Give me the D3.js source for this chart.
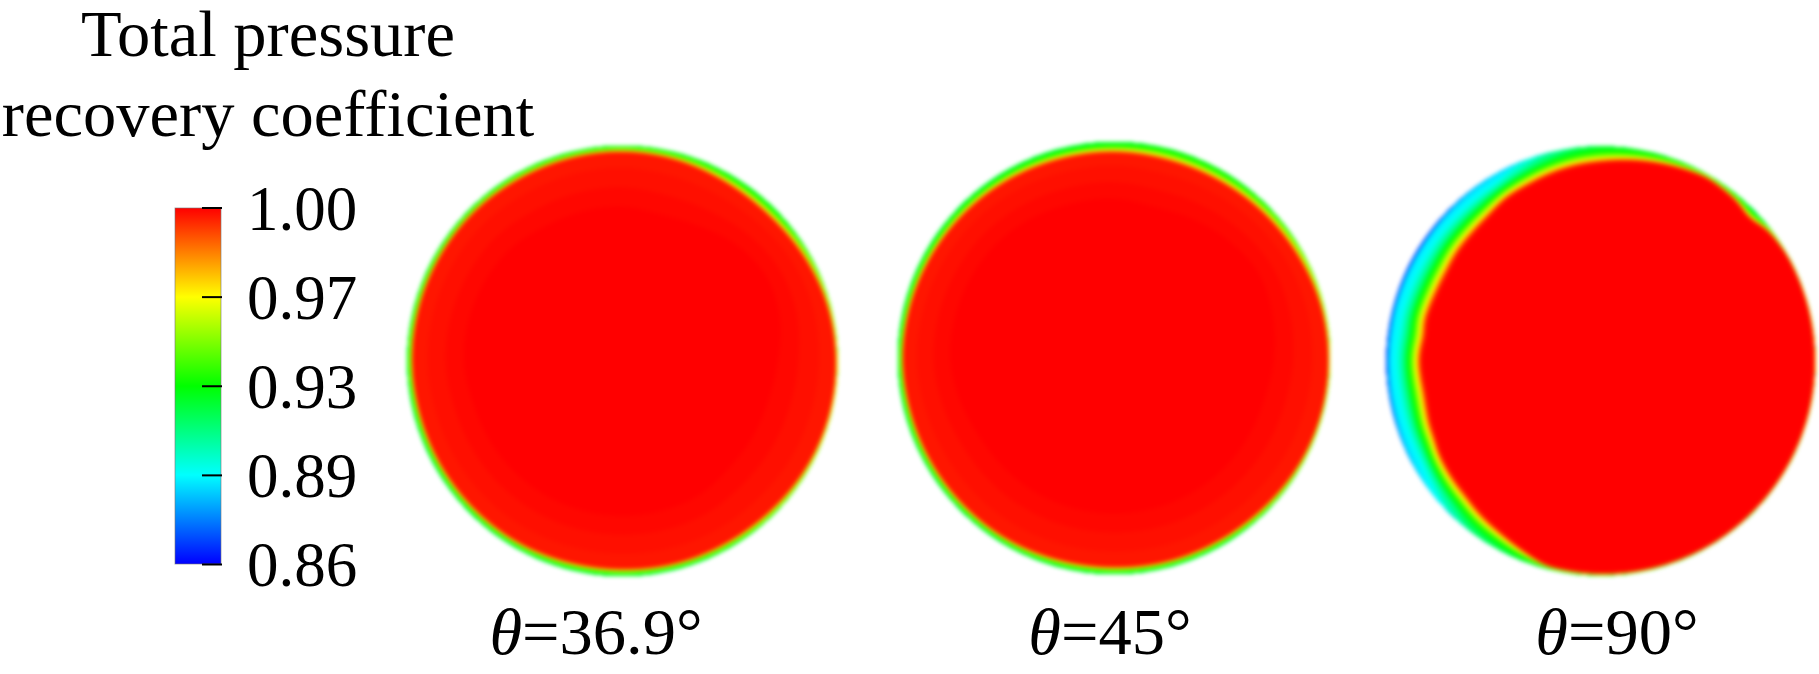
<!DOCTYPE html>
<html>
<head>
<meta charset="utf-8">
<script src="https://cdn.jsdelivr.net/npm/d3@7"></script>
<style>
html,body{margin:0;padding:0;background:#fff;overflow:hidden}
svg{display:block}
text{font-family:"Liberation Serif","Times New Roman",serif;fill:#000}
</style>
</head>
<body>
<svg id="chart" width="1819" height="674"></svg>
<script>
const titleLines = ["Total pressure", "recovery coefficient"];
const tickLabels = ["1.00", "0.97", "0.93", "0.89", "0.86"];
const colorValues = [0.86, 0.895, 0.93, 0.965, 1.0];
const colorStops = ["#0000ff", "#00ffff", "#00ff00", "#ffff00", "#ff0000"];

const diskLabels = [["θ", "=36.9°"], ["θ", "=45°"], ["θ", "=90°"]];

// bearing in degrees, clockwise from top
const rimAngles = [0,15,30,45,60,75,90,105,120,135,150,165,180,195,210,225,240,255,270,285,300,315,330,345];
// disk 1
const d1Edge = [.93,.93,.93,.93,.94,.95,.96,.96,.95,.94,.93,.925,.925,.925,.925,.925,.925,.925,.93,.93,.93,.93,.93,.93];
const d1Red  = [.97,.965,.955,.955,.97,.985,.99,.99,.985,.975,.97,.97,.965,.965,.97,.97,.97,.97,.975,.975,.975,.975,.97,.97];
const d1Core = [.72,.7,.72,.76,.78,.76,.72,.7,.7,.7,.72,.72,.72,.72,.72,.72,.72,.72,.74,.74,.74,.74,.72,.72];
// disk 2
const d2Edge = [.925,.93,.93,.935,.945,.95,.955,.95,.945,.935,.925,.925,.925,.925,.925,.925,.925,.925,.925,.925,.925,.925,.925,.925];
const d2Red  = [.95,.945,.95,.96,.97,.985,.99,.99,.985,.975,.97,.97,.965,.965,.97,.97,.97,.97,.975,.97,.965,.96,.955,.95];
const d2Core = [.74,.72,.74,.76,.78,.76,.74,.72,.72,.72,.72,.72,.72,.72,.72,.72,.72,.74,.76,.76,.76,.76,.75,.74];
// disk 3
const d3Angles = [0,15,30,40,46,52,60,75,90,120,150,180,195,203,210,218,225,233,240,245,250,255,260,265,270,274,278,283,288,293,300,307,315,322,330,338,345,353];
const d3Edge = [.925,.93,.94,.93,.925,.945,.955,.96,.965,.955,.945,.94,.93,.925,.92,.915,.905,.895,.89,.885,.88,.875,.875,.87,.868,.868,.868,.87,.868,.868,.866,.866,.875,.885,.89,.9,.91,.92];
const d3Red  = [.925,.955,.985,.975,.955,.985,.995,.995,.995,.995,.995,.99,.985,.95,.925,.905,.885,.875,.865,.85,.845,.835,.83,.835,.84,.835,.825,.835,.83,.825,.825,.835,.84,.85,.875,.885,.9,.915];

const disks = [
  {angles: rimAngles, edge: d1Edge, red: d1Red, core: d1Core, cx: 622.5, cy: 361, R: 215, smooth: 6},
  {angles: rimAngles, edge: d2Edge, red: d2Red, core: d2Core, cx: 1114, cy: 358, R: 216, smooth: 6},
  {angles: d3Angles, edge: d3Edge, red: d3Red, core: d3Red.map(r => r - 0.01), cx: 1601, cy: 361, R: 214.5, smooth: 2}
];
const labelX = [596, 1110, 1617];

const svg = d3.select("#chart");
const TICK_FONT = 63, TITLE_FONT = 66.5, LABEL_FONT = 66.5;

const color = d3.scaleLinear().domain(colorValues).range(colorStops).clamp(true);
const SHOULDER = 0.9972, PLATEAU = 0.893, RIM_DEPTH = 0.1;
const levels = d3.range(0.86, 1.0001, 0.001);

const defs = svg.append("defs");
defs.append("filter").attr("id", "soft")
  .attr("x", "-5%").attr("y", "-5%").attr("width", "110%").attr("height", "110%")
  .attr("color-interpolation-filters", "sRGB")
  .append("feGaussianBlur").attr("stdDeviation", 1.9);

const grad = defs.append("linearGradient").attr("id", "bar")
  .attr("x1", 0).attr("y1", 1).attr("x2", 0).attr("y2", 0);
const barPos = d3.scaleLinear().domain([0.86, 1]).range([0, 1]);
colorValues.forEach((v, i) => {
  grad.append("stop").attr("offset", barPos(v)).attr("stop-color", colorStops[i]);
});

function levelRadius(d, i, L) {
  const e = d.edge[i], red = d.red[i], core = d.core[i];
  if (L <= e) return 1;
  if (L > SHOULDER) return red - (red - core) * (L - SHOULDER) / (1 - SHOULDER);
  let s;
  if (e < PLATEAU) {
    s = L <= PLATEAU
      ? RIM_DEPTH * (L - e) / (PLATEAU - e)
      : RIM_DEPTH + (1 - RIM_DEPTH) * Math.sqrt((L - PLATEAU) / (SHOULDER - PLATEAU));
  } else {
    s = Math.sqrt((L - e) / (SHOULDER - e));
  }
  return 1 - (1 - red) * s;
}

const degrees = d3.range(0, 360, 1);

disks.forEach(d => {
  const r = d3.scaleLinear().domain([0, 1]).range([0, d.R]);
  const knots = [...d.angles, 360];
  const knotIdx = [...d.angles.map((_, i) => i), 0];
  const line = d3.lineRadial()
    .angle((_, i) => degrees[i] * Math.PI / 180)
    .radius(v => r(v))
    .curve(d3.curveLinearClosed);
  svg.append("g")
    .attr("transform", `translate(${d.cx},${d.cy})`)
    .attr("filter", "url(#soft)")
    .selectAll("path").data(levels).join("path")
    .attr("d", L => {
      const at = d3.scaleLinear().domain(knots).range(knotIdx.map(i => levelRadius(d, i, L)));
      const raw = degrees.map(a => at(a));
      const w = d.smooth;
      const smoothed = raw.map((_, a) => d3.mean(d3.range(-w, w + 1), k => raw[(a + k + 360) % 360]));
      return line(smoothed);
    })
    .attr("fill", L => color(L));
});

// Colour bar
const barX = 175, barW = 46, barTop = 208, barBottom = 564;
svg.append("rect")
  .attr("x", barX).attr("y", barTop).attr("width", barW).attr("height", barBottom - barTop)
  .attr("fill", "url(#bar)").attr("stroke", "#777").attr("stroke-opacity", 0.6).attr("stroke-width", 1);

const yTick = d3.scalePoint().domain(tickLabels).range([207.5, 564]);
const axisG = svg.append("g").attr("transform", "translate(222,0)")
  .call(d3.axisLeft(yTick).tickSize(20).tickPadding(0).tickFormat(""));
axisG.select(".domain").remove();
axisG.selectAll("line").attr("stroke", "#000").attr("stroke-width", 2);

svg.append("g").selectAll("text").data(tickLabels).join("text")
  .attr("x", 247).attr("y", d => yTick(d) + 22)
  .attr("font-size", TICK_FONT).text(d => d);

// Title
svg.append("g").selectAll("text").data(titleLines).join("text")
  .attr("x", 268).attr("y", (d, i) => 56 + i * 80)
  .attr("text-anchor", "middle").attr("font-size", TITLE_FONT).text(d => d);

// Disk labels
disks.forEach((d, i) => {
  const t = svg.append("text").attr("x", labelX[i]).attr("y", 654)
    .attr("text-anchor", "middle").attr("font-size", LABEL_FONT);
  t.append("tspan").attr("font-style", "italic").text(diskLabels[i][0]);
  t.append("tspan").text(diskLabels[i][1]);
});
</script>
</body>
</html>
